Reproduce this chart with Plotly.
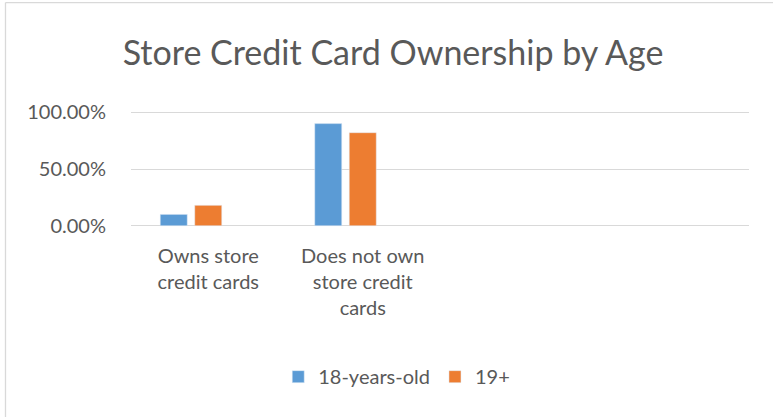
import plotly.graph_objects as go

categories = ["Owns store credit cards", "Does not own store credit cards", " ", "  "]
tick_labels = ["Owns store<br>credit cards", "Does not own<br>store credit<br>cards", "", ""]
series_names = ["18-years-old", "19+"]
values_18 = [0.10, 0.90, None, None]
values_19 = [0.18, 0.82, None, None]
values_blank = [None, None, None, None]
y_ticks = [0, 0.5, 1.0]
y_tick_labels = ["0.00%", "50.00%", "100.00%"]

FONT = "Lato"
GRAY = "#595959"

fig = go.Figure()
fig.add_trace(go.Bar(x=categories, y=values_18, name=series_names[0], marker_color="#5B9BD5"))
fig.add_trace(go.Bar(x=categories, y=values_19, name=series_names[1], marker_color="#ED7D31"))
fig.add_trace(go.Bar(x=categories, y=values_blank, name="", showlegend=False, marker_color="#A5A5A5"))

W, H = 773, 417
EXT = 0.02
L, R = 131, 24
T = 112.7 - EXT * 113
B = H - (225.7 + EXT * 113)
pw, ph = W - L - R, H - T - B

def px_x(p):
    return (p - L) / pw

def px_y(p):
    return (H - B - p) / ph

fig.update_layout(
    width=W, height=H,
    margin=dict(l=L, r=R, t=T, b=B, pad=0),
    paper_bgcolor="white", plot_bgcolor="white",
    barmode="group", bargap=0.33, bargroupgap=0.217,
    title=dict(text="Store Credit Card Ownership by Age", x=0.5085, xanchor="center",
               y=1 - 53 / H, yanchor="middle",
               font=dict(family=FONT, size=34, color=GRAY)),
    font=dict(family=FONT, color=GRAY),
    showlegend=True,
    legend=dict(orientation="h", x=0.43, xanchor="center", y=px_y(376), yanchor="middle",
                font=dict(family=FONT, size=20, color=GRAY), itemwidth=30,
                traceorder="normal"),
    xaxis=dict(type="category", categoryorder="array", categoryarray=categories,
               tickmode="array", tickvals=categories, ticktext=tick_labels,
               tickfont=dict(family=FONT, size=20, color=GRAY),
               showline=False, ticks="outside", ticklen=10, tickcolor="rgba(0,0,0,0)",
               showgrid=False, tickangle=0),
    yaxis=dict(range=[-EXT, 1 + EXT], tickmode="array", tickvals=y_ticks, ticktext=y_tick_labels,
               tickfont=dict(family=FONT, size=20, color=GRAY),
               showgrid=True, gridcolor="#D9D9D9", gridwidth=1.3, zeroline=False,
               showline=False, ticks="outside", ticklen=20, tickcolor="rgba(0,0,0,0)"),
    shapes=[
        dict(type="line", xref="paper", yref="paper", x0=px_x(5.5), x1=px_x(5.5),
             y0=px_y(3.5), y1=px_y(420), line=dict(color="#D9D9D9", width=1.3)),
        dict(type="line", xref="paper", yref="paper", x0=px_x(5.5), x1=px_x(776),
             y0=px_y(3.5), y1=px_y(3.5), line=dict(color="#D9D9D9", width=1.3)),
    ],
)

fig.write_html("out.html")
